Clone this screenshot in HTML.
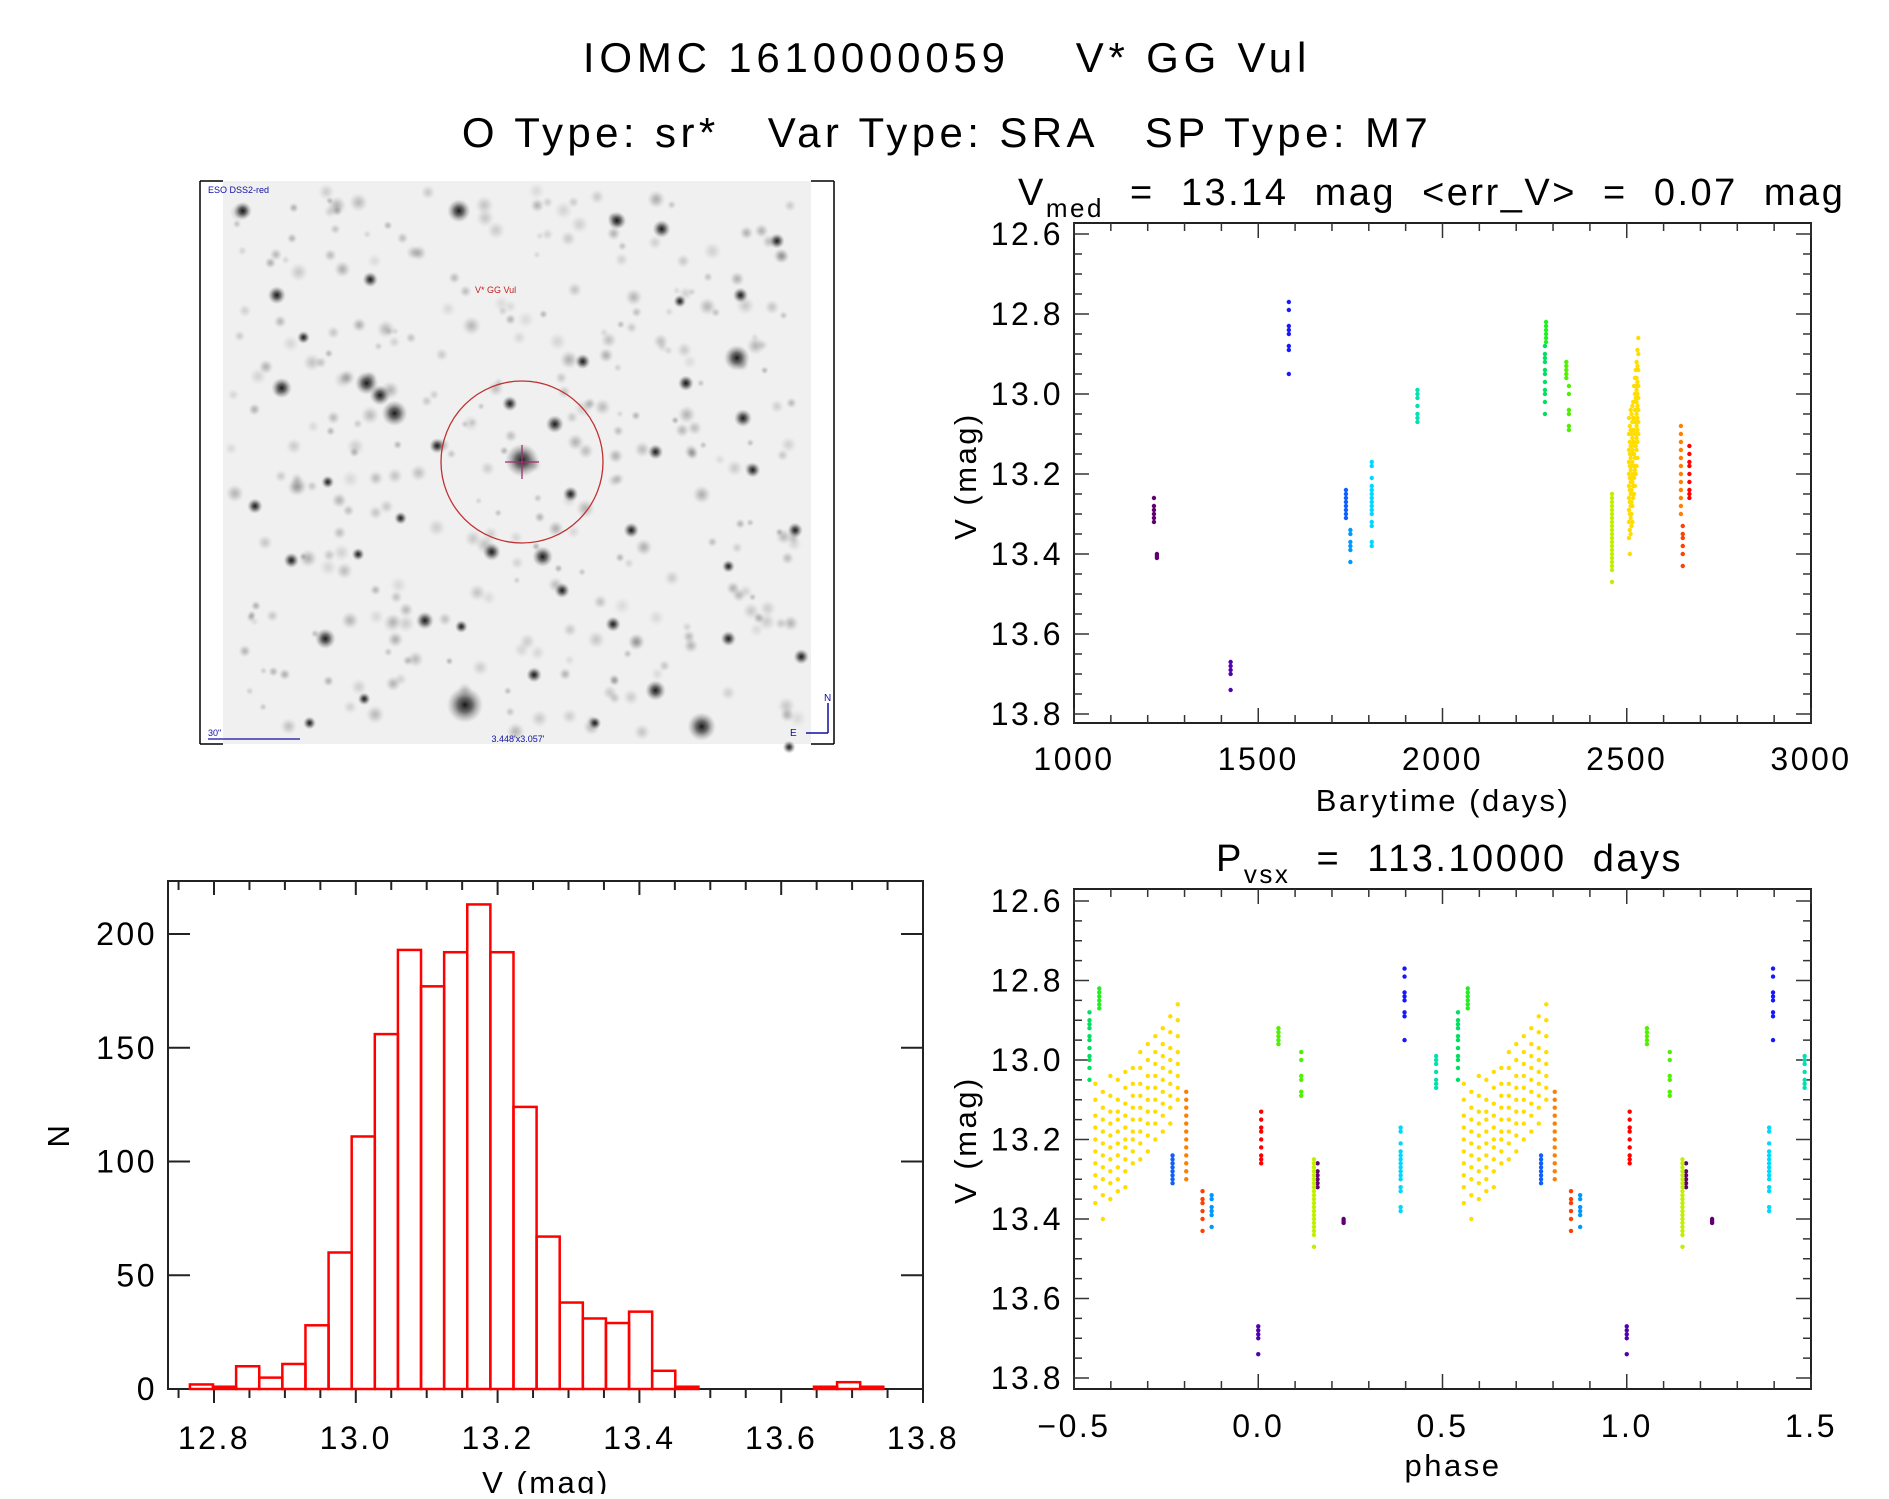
<!DOCTYPE html>
<html><head><meta charset="utf-8">
<style>
html,body{margin:0;padding:0;background:#fff;}
body{width:1889px;height:1494px;overflow:hidden;font-family:"Liberation Sans","DejaVu Sans",sans-serif;}
svg text{font-family:"Liberation Sans","DejaVu Sans",sans-serif;fill:#000;letter-spacing:2.5px;}
</style></head>
<body>
<svg id="fig" width="1889" height="1494" viewBox="0 0 1889 1494" xmlns="http://www.w3.org/2000/svg">
<defs>
<radialGradient id="starg"><stop offset="0" stop-color="#000" stop-opacity="0.9"/><stop offset="0.4" stop-color="#222" stop-opacity="0.65"/><stop offset="1" stop-color="#888" stop-opacity="0"/></radialGradient>
</defs>
<text x="947" y="72" font-size="42" text-anchor="middle" style="letter-spacing:4.8px" xml:space="preserve">IOMC 1610000059    V* GG Vul</text>
<text x="947" y="147" font-size="42" text-anchor="middle" style="letter-spacing:4.4px" xml:space="preserve">O Type: sr*   Var Type: SRA   SP Type: M7</text>
<g id="sky"></g>
<g id="lc"></g>
<g id="hist"></g>
<g id="ph"></g>
</svg>
<script>
// ---------- Histogram data ----------
const histStart = 12.766;
const histBinWidth = 0.0326;
const histCounts = [2,1,10,5,11,28,60,111,156,193,177,192,213,192,124,67,38,31,29,34,8,1,0,0,0,0,0,1,3,1];
const histXTicks = [12.8,13.0,13.2,13.4,13.6,13.8];
const histYTicks = [0,50,100,150,200];

// ---------- Light curve data (columns of observations) ----------
const colTime = [1217,1225,1425,1583,1738,1750,1808,1932,2278,2281,2336,2343,2460,
 2506.0,2508.3,2510.6,2512.9,2515.2,2517.5,2519.8,2522.1,2524.4,2526.7,2529.0,2531.3,
 2647,2652,2670];
const colMags = [
 [13.26,13.28,13.29,13.30,13.31,13.32],
 [13.40,13.405,13.41],
 [13.67,13.68,13.69,13.70,13.74],
 [12.77,12.79,12.83,12.84,12.85,12.88,12.89,12.95],
 [13.24,13.25,13.26,13.27,13.28,13.29,13.30,13.31],
 [13.34,13.35,13.37,13.38,13.39,13.42],
 [13.17,13.18,13.21,13.23,13.24,13.25,13.26,13.27,13.28,13.29,13.30,13.32,13.33,13.37,13.38],
 [12.99,13.00,13.01,13.03,13.05,13.06,13.07],
 [12.88,12.90,12.91,12.92,12.94,12.95,12.97,12.99,13.00,13.02,13.05],
 [12.82,12.83,12.84,12.85,12.86,12.87],
 [12.92,12.93,12.94,12.95,12.96],
 [12.98,13.00,13.04,13.05,13.08,13.09],
 [13.25,13.26,13.27,13.28,13.29,13.30,13.31,13.32,13.33,13.34,13.35,13.36,13.37,13.38,13.39,13.40,13.41,13.42,13.43,13.44,13.47],
 [13.06,13.10,13.14,13.17,13.20,13.23,13.26,13.29,13.32,13.36],
 [13.08,13.12,13.15,13.18,13.21,13.24,13.27,13.30,13.34,13.40],
 [13.04,13.09,13.13,13.16,13.19,13.22,13.25,13.28,13.31,13.35],
 [13.05,13.10,13.13,13.15,13.18,13.21,13.24,13.27,13.30,13.33],
 [13.03,13.07,13.11,13.14,13.17,13.20,13.22,13.25,13.28,13.32],
 [13.02,13.06,13.09,13.12,13.15,13.18,13.20,13.23,13.26],
 [12.98,13.02,13.06,13.09,13.12,13.15,13.18,13.21,13.25],
 [12.96,13.00,13.04,13.07,13.10,13.13,13.16,13.19,13.23],
 [12.94,12.98,13.01,13.04,13.07,13.10,13.13,13.16,13.20],
 [12.92,12.96,12.99,13.02,13.05,13.08,13.11,13.14,13.18],
 [12.89,12.93,12.97,13.00,13.03,13.06,13.09,13.12,13.16],
 [12.86,12.90,12.94,12.98,13.01,13.04,13.07,13.10],
 [13.08,13.10,13.12,13.14,13.16,13.18,13.20,13.22,13.24,13.26,13.28,13.30],
 [13.33,13.35,13.36,13.38,13.40,13.43],
 [13.13,13.15,13.17,13.18,13.20,13.22,13.24,13.25,13.26]
];
const colColor = ['#600070','#600070','#5000b0','#1818ff','#1060ff','#0098ff','#00d8ff','#00e0b0','#00e060','#20f020','#50f000','#50f000','#c0f000',
 '#ffdd00','#ffdd00','#ffdd00','#ffdd00','#ffdd00','#ffdd00','#ffdd00','#ffdd00','#ffdd00','#ffdd00','#ffdd00','#ffdd00',
 '#ff8000','#ff4000','#ff0000'];
const lcXTicks = [1000,1500,2000,2500,3000];
const magTicks = [12.6,12.8,13.0,13.2,13.4,13.6,13.8];
const phaseTicks = [-0.5,0.0,0.5,1.0,1.5];
const periodDays = 113.1;
const epochDays = 1425;

const NS='http://www.w3.org/2000/svg';
function mk(parent, tag, attrs){const e=document.createElementNS(NS,tag);for(const k in attrs)e.setAttribute(k,attrs[k]);parent.appendChild(e);return e;}
function line(g,x1,y1,x2,y2,c,w){return mk(g,'line',{x1,y1,x2,y2,stroke:c||'#222','stroke-width':w||2});}
function txt(g,x,y,s,size,anchor){const t=mk(g,'text',{x,y,'font-size':size||31,'text-anchor':anchor||'middle'});t.textContent=s;return t;}
function frame(g,L,T,R,B){const r=mk(g,'rect',{x:L,y:T,width:R-L,height:B-T,fill:'none',stroke:'#222','stroke-width':2});}

// ---------- Light curve ----------
(function(){
 const g=document.getElementById('lc');
 const L=1074,R=1811,T=223,B=723;
 const xS=v=>L+(v-1000)/2000*(R-L);
 const yS=v=>234+(v-12.6)/1.2*480;
 frame(g,L,T,R,B);
 for(let v=1000;v<=3000;v+=100){const x=xS(v);const big=v%500===0;line(g,x,B,x,B-(big?15:8),'#333',1.5);line(g,x,T,x,T+(big?15:8),'#333',1.5);}
 for(let k=0;k<=24;k++){const v=12.6+k*0.05;const y=yS(v);if(y<T||y>B)continue;const big=k%4===0;line(g,L,y,L+(big?15:8),y,'#333',1.5);line(g,R,y,R-(big?15:8),y,'#333',1.5);}
 lcXTicks.forEach(v=>{const t=txt(g,xS(v),770,String(v),32);});
 magTicks.forEach(v=>{const t=txt(g,1063,yS(v)+11,v.toFixed(1),32,'end');});
 const xt=txt(g,1443,811,'Barytime (days)',31);
 const yt=txt(g,0,0,'V (mag)',31);yt.setAttribute('transform','translate(976,476) rotate(-90)');
 const tt=mk(g,'text',{x:1018,y:205,'font-size':38});
 tt.innerHTML='V<tspan font-size="26" dy="12">med</tspan><tspan dy="-12" xml:space="preserve">  =  13.14  mag  &lt;err_V&gt;  =  0.07  mag</tspan>';
 colTime.forEach((t,i)=>{colMags[i].forEach(m=>{const c=mk(g,'circle',{cx:xS(t),cy:yS(m),r:2.2,fill:colColor[i]});});});
})();

// ---------- Phase plot ----------
(function(){
 const g=document.getElementById('ph');
 const L=1074,R=1811,T=889,B=1389;
 const xS=v=>L+(v+0.5)/2*(R-L);
 const yS=v=>901+(v-12.6)/1.2*477;
 frame(g,L,T,R,B);
 for(let k=0;k<=20;k++){const v=-0.5+k*0.1;const x=xS(v);const big=k%5===0;line(g,x,B,x,B-(big?15:8),'#333',1.5);line(g,x,T,x,T+(big?15:8),'#333',1.5);}
 for(let k=0;k<=24;k++){const v=12.6+k*0.05;const y=yS(v);if(y<T||y>B)continue;const big=k%4===0;line(g,L,y,L+(big?15:8),y,'#333',1.5);line(g,R,y,R-(big?15:8),y,'#333',1.5);}
 phaseTicks.forEach(v=>{const s=(v<0?'\u2212':'')+Math.abs(v).toFixed(1);const t=txt(g,xS(v),1437,s,32);});
 magTicks.forEach(v=>{const t=txt(g,1063,yS(v)+11,v.toFixed(1),32,'end');});
 const xt=txt(g,1453,1476,'phase',31);
 const yt=txt(g,0,0,'V (mag)',31);yt.setAttribute('transform','translate(976,1140) rotate(-90)');
 const tt=mk(g,'text',{x:1216,y:871,'font-size':38});
 tt.innerHTML='P<tspan font-size="26" dy="12">vsx</tspan><tspan dy="-12" xml:space="preserve">  =  113.10000  days</tspan>';
 colTime.forEach((t,i)=>{
  let ph=((t-epochDays)/periodDays)%1;if(ph<0)ph+=1;
  let p0=ph>=0.5?ph-1:ph;
  [p0,p0+1].forEach(p=>{if(p<-0.5||p>1.5)return;colMags[i].forEach(m=>{const c=mk(g,'circle',{cx:xS(p),cy:yS(m),r:2.2,fill:colColor[i]});});});
 });
})();

// ---------- Histogram ----------
(function(){
 const g=document.getElementById('hist');
 const L=168,R=923,T=881,B=1389;
 const xS=v=>214+(v-12.8)*709;
 const yS=v=>B-v*(B-934)/200;
 frame(g,L,T,R,B);
 for(let k=0;k<=21;k++){const v=12.75+k*0.05;const x=xS(v);if(x<L||x>R)continue;const big=(Math.round(v*100)%20===0);line(g,x,B,x,B+(big?14:9),'#222',2);line(g,x,T,x,T+(big?14:9),'#222',2);}
 histYTicks.forEach(v=>{const y=yS(v);line(g,L,y,L+22,y,'#222',2);line(g,R,y,R-22,y,'#222',2);
  const t=txt(g,157,y+11,String(v),32,'end');});
 histXTicks.forEach(v=>{const t=txt(g,xS(v),1449,v.toFixed(1),32);});
 const xt=txt(g,546,1493,'V (mag)',31);
 const yt=txt(g,0,0,'N',31);yt.setAttribute('transform','translate(69,1135) rotate(-90)');
 histCounts.forEach((c,i)=>{const x0=xS(histStart+i*histBinWidth),x1=xS(histStart+(i+1)*histBinWidth);
  const r=mk(g,'rect',{x:x0,y:yS(c),width:x1-x0,height:B-yS(c),fill:'none',stroke:'#ff0000','stroke-width':2.5});
  });
})();

// ---------- Sky image ----------
(function(){
 const g=document.getElementById('sky');
 const bg=mk(g,'rect',{x:223,y:181,width:588,height:563,fill:'#f0f0f0'});
 
 line(g,200,181,223,181,'#000',1.5);line(g,200,181,200,744,'#000',1.5);line(g,200,744,223,744,'#000',1.5);
 line(g,811,181,834,181,'#000',1.5);line(g,834,181,834,744,'#000',1.5);line(g,811,744,834,744,'#000',1.5);
 let s=12345;const rnd=()=>{s=(s*1103515245+12345)%2147483648;return s/2147483648;};
 for(let i=0;i<320;i++){const x=230+rnd()*574,y=188+rnd()*549;const r=4+rnd()*6;mk(g,'circle',{cx:x,cy:y,r:r,fill:'url(#starg)',opacity:0.1+rnd()*0.22});}
 const stars=[[302,318,9],[325,343,10],[313,328,8],[378,175,9],[430,382,13],[607,297,10],[383,585,14],[578,603,11],[540,573,8],[232,322,8],[268,530,8],[447,462,8],[457,352,7],[405,458,7],[508,183,7],[200,175,7],[228,245,7],[612,347,7],[565,318,6],[545,190,7],[655,440,6],[350,515,7],[463,490,6],[660,545,6],[305,232,6],[240,465,6],[295,460,5],[520,440,6],[600,530,6],[620,390,6],[250,280,5],[480,300,6],[560,250,5],[420,335,6],[505,518,6],[360,370,6],[210,420,6],[640,200,6],[330,430,5],[440,560,6],[600,470,5],[270,400,5],[380,520,5],[255,600,5],[490,600,5],[650,620,5],[540,375,6],[470,410,6],[300,580,5],[610,245,6]];
 stars.forEach(([dx,dy,r])=>{const c=mk(g,'circle',{cx:dx*1.214,cy:dy*1.205,r:r*1.3,fill:'url(#starg)'});});
 const circ=mk(g,'circle',{cx:522,cy:462,r:81,fill:'none',stroke:'#c03030','stroke-width':1.3});
 line(g,505,462,539,462,'#a03070',1.3);line(g,522,445,522,479,'#a03070',1.3);
 const l1=mk(g,'text',{x:208,y:193,'font-size':9});l1.textContent='ESO DSS2-red';l1.setAttribute('style','fill:#1010a0;letter-spacing:0');
 const l2=mk(g,'text',{x:475,y:293,'font-size':9});l2.textContent='V* GG Vul';l2.setAttribute('style','fill:#c02020;letter-spacing:0');
 const l3=mk(g,'text',{x:208,y:736,'font-size':9});l3.textContent='30"';l3.setAttribute('style','fill:#1010a0;letter-spacing:0');
 line(g,208,739,300,739,'#1010a0',1.2);
 const l4=mk(g,'text',{x:518,y:742,'font-size':9,'text-anchor':'middle'});l4.textContent="3.448'x3.057'";l4.setAttribute('style','fill:#1010a0;letter-spacing:0');
 line(g,828,703,828,733,'#1010a0',1.5);line(g,828,733,806,733,'#1010a0',1.5);
 const l5=mk(g,'text',{x:824,y:701,'font-size':10});l5.textContent='N';l5.setAttribute('style','fill:#1010a0;letter-spacing:0');
 const l6=mk(g,'text',{x:790,y:736,'font-size':10});l6.textContent='E';l6.setAttribute('style','fill:#1010a0;letter-spacing:0');
})();
</script>
</body></html>
